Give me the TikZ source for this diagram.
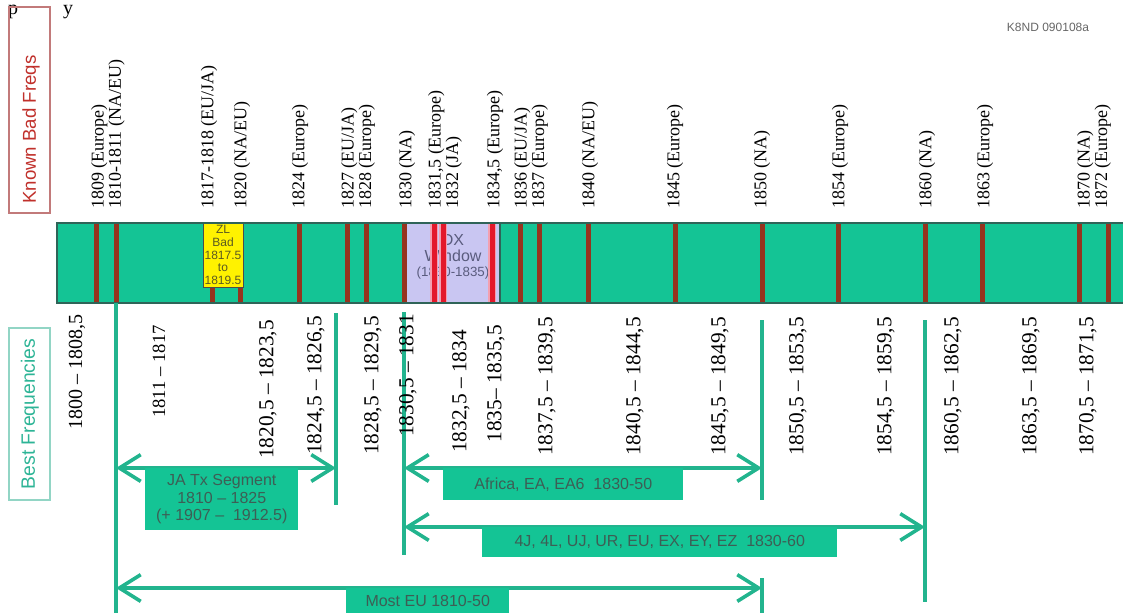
\documentclass[tikz,border=0pt]{standalone}
\usepackage{fontspec}
\setmainfont{Liberation Serif}
\setsansfont{Liberation Sans}
\usetikzlibrary{arrows.meta}
\definecolor{bandgreen}{HTML}{14C495}
\definecolor{bandedge}{HTML}{2F6458}
\definecolor{markteal}{HTML}{22B48E}
\definecolor{badbrown}{HTML}{96331E}
\definecolor{badred}{HTML}{E3192B}
\definecolor{badpink}{HTML}{F3A0B0}
\definecolor{dxlav}{HTML}{C9C6F2}
\definecolor{dxtext}{HTML}{5A5C7E}
\definecolor{zltext}{HTML}{5B5A22}
\definecolor{boxtext}{HTML}{3D5E55}
\definecolor{knownred}{HTML}{C0302B}
\definecolor{knownedge}{HTML}{C27A7A}
\definecolor{bestteal}{HTML}{2DB496}
\definecolor{bestedge}{HTML}{92D5C5}

\begin{document}
\begin{tikzpicture}[x=0.75pt,y=-0.75pt,
  badyear/.style={rotate=90,anchor=west,inner sep=0pt,align=left,
    font=\fontsize{13.5}{13}\selectfont},
  bestyear/.style={rotate=90,anchor=east,inner sep=0pt,
    font=\fontsize{16}{16}\selectfont},
  badmark/.style={badbrown,line width=3.75pt},
  dxmark/.style={badred,line width=3.75pt},
  bestmark/.style={markteal,line width=3pt},
  spanarrow/.style={markteal,line width=2.7pt,
    {Straight Barb[length=16pt,width=20pt]}-{Straight Barb[length=16pt,width=20pt]}},
  rangebox/.style={fill=bandgreen,text=boxtext,anchor=north west,inner sep=0pt,
    align=center,font=\sffamily\fontsize{12}{13}\selectfont}]
\useasboundingbox (0,0) rectangle (1123,612);
%
\node (fragp) at (13,14) [anchor=base,inner sep=0pt,font=\fontsize{15}{15}\selectfont] {p};
\node (fragy) at (68,14) [anchor=base,inner sep=0pt,font=\fontsize{15}{15}\selectfont] {y};
\node (stamp) at (1048,27) [font=\sffamily\fontsize{9}{9}\selectfont,text=black!60] {K8ND 090108a};
%
% side titles
\node (knownbox) at (29.5,110) [draw=knownedge,line width=0.8pt,minimum width=41*0.75pt,minimum height=206*0.75pt] {};
\node (known) at (31,204) [rotate=90,anchor=west,inner sep=0pt,text=knownred,
  font=\sffamily\fontsize{14}{14}\selectfont] {Known Bad Freqs};
\node (bestbox) at (29.5,414) [draw=bestedge,line width=0.8pt,minimum width=41*0.75pt,minimum height=172*0.75pt] {};
\node (best) at (30,414) [rotate=90,inner sep=0pt,text=bestteal,
  font=\sffamily\fontsize{14.5}{14}\selectfont] {Best Frequencies};
%
% known bad frequencies
\node (b1809) at (108,209) [badyear] {1809 (Europe)\\1810-1811 (NA/EU)};
\node (b1817) at (209,209) [badyear] {1817-1818 (EU/JA)};
\node (b1820) at (242,209) [badyear] {1820 (NA/EU)};
\node (b1824) at (300,209) [badyear] {1824 (Europe)};
\node (b1827) at (358,209) [badyear] {1827 (EU/JA)\\1828 (Europe)};
\node (b1830) at (407,209) [badyear] {1830 (NA)};
\node (b1831) at (445,209) [badyear] {1831,5 (Europe)\\1832 (JA)};
\node (b1834) at (495,209) [badyear] {1834,5 (Europe)};
\node (b1836) at (531,209) [badyear] {1836 (EU/JA)\\1837 (Europe)};
\node (b1840) at (590,209) [badyear] {1840 (NA/EU)};
\node (b1845) at (675,209) [badyear] {1845 (Europe)};
\node (b1850) at (762,209) [badyear] {1850 (NA)};
\node (b1854) at (840,209) [badyear] {1854 (Europe)};
\node (b1860) at (927,209) [badyear] {1860 (NA)};
\node (b1863) at (985,209) [badyear] {1863 (Europe)};
\node (b1870) at (1094,209) [badyear] {1870 (NA)\\1872 (Europe)};
%
% the band
\fill[bandgreen] (57,223) rectangle (1130,303);
\foreach \x in {96,116,212,240,299,347,366,404,520,539,588,675,762,838,925,982,1079,1108}
  \draw[badmark] (\x,223) -- (\x,303);
\fill[dxlav] (407,223) rectangle (500,303);
\draw[bandedge,line width=1pt] (500,223) -- (500,303);
\node (dx) at (453,257) [align=center,inner sep=0pt,text=dxtext,
  font=\sffamily\fontsize{12}{12}\selectfont] {DX\\Window\\[-1pt]{\fontsize{10}{10}\selectfont(1830-1835)}};
\foreach \x in {434,443,492} {
  \draw[badpink,line width=6pt] (\x,223) -- (\x,303);
  \draw[dxmark] (\x,223) -- (\x,303);
}
\node (zl) at (223,255) [draw=black!70,line width=0.6pt,fill=yellow,minimum width=40*0.75pt,
  minimum height=64*0.75pt,inner sep=0pt,align=center,text=zltext,
  font=\sffamily\fontsize{9}{9.6}\selectfont] {ZL\\Bad\\1817.5\\to\\1819.5};
\draw[bandedge,line width=1.2pt] (1130,223) -- (57,223) -- (57,303) -- (1130,303);
%
% segment limits
\coordinate (s1810a) at (116,303);
\coordinate (s1810b) at (116,615);
\coordinate (s1825a) at (336,313);
\coordinate (s1825b) at (336,505);
\coordinate (s1830a) at (404,312);
\coordinate (s1830b) at (404,555);
\coordinate (s1850a) at (762,320);
\coordinate (s1850b) at (762,500);
\coordinate (s1850c) at (762,578);
\coordinate (s1850d) at (762,615);
\coordinate (s1860a) at (925,320);
\coordinate (s1860b) at (925,602);
\draw[bestmark] (s1810a) -- (s1810b);
\draw[bestmark] (s1825a) -- (s1825b);
\draw[bestmark] (s1830a) -- (s1830b);
\draw[bestmark] (s1850a) -- (s1850b);
\draw[bestmark] (s1850c) -- (s1850d);
\draw[bestmark] (s1860a) -- (s1860b);
%
% best frequencies
\node (f1800) at (77,314) [bestyear,font=\fontsize{15}{15}\selectfont] {1800 – 1808,5};
\node (f1811) at (159,325) [bestyear,font=\fontsize{14}{14}\selectfont] {1811 – 1817};
\node (f1820) at (268,320) [bestyear] {1820,5 – 1823,5};
\node (f1824) at (316,316) [bestyear] {1824,5 – 1826,5};
\node (f1828) at (373,316) [bestyear] {1828,5 – 1829,5};
\node (f1830) at (408,314) [bestyear] {1830,5 – 1831};
\node (f1832) at (461,330) [bestyear] {1832,5 – 1834};
\node (f1835) at (496,325) [bestyear] {1835– 1835,5};
\node (f1837) at (547,317) [bestyear] {1837,5 – 1839,5};
\node (f1840) at (635,317) [bestyear] {1840,5 – 1844,5};
\node (f1845) at (720,317) [bestyear] {1845,5 – 1849,5};
\node (f1850) at (798,317) [bestyear] {1850,5 – 1853,5};
\node (f1854) at (886,317) [bestyear] {1854,5 – 1859,5};
\node (f1860) at (953,317) [bestyear] {1860,5 – 1862,5};
\node (f1863) at (1031,317) [bestyear] {1863,5 – 1869,5};
\node (f1870) at (1088,317) [bestyear] {1870,5 – 1871,5};
%
\coordinate (ja1) at (116,468);
\coordinate (ja2) at (336,468);
\coordinate (af1) at (404,468);
\coordinate (af2) at (762,468);
\coordinate (fj1) at (404,527);
\coordinate (fj2) at (925,527);
\coordinate (eu1) at (116,588);
\coordinate (eu2) at (762,588);
\draw[spanarrow] (ja1) -- (ja2);
\draw[spanarrow] (af1) -- (af2);
\draw[spanarrow] (fj1) -- (fj2);
\draw[spanarrow] (eu1) -- (eu2);
%
\node (jaseg) at (145,468) [rangebox,minimum width=153*0.75pt,minimum height=62*0.75pt] {JA Tx Segment\\1810 – 1825\\(+ 1907 –\ \ 1912.5)};
\node (africa) at (443,468) [rangebox,minimum width=240*0.75pt,minimum height=32*0.75pt] {Africa, EA, EA6\ \ 1830-50};
\node (fourj) at (482,527) [rangebox,minimum width=355*0.75pt,minimum height=30*0.75pt] {4J, 4L, UJ, UR, EU, EX, EY, EZ\ \ 1830-60};
\node (mosteu) at (346,588) [rangebox,minimum width=163*0.75pt,minimum height=26*0.75pt] {Most EU 1810-50};
\end{tikzpicture}
\end{document}
